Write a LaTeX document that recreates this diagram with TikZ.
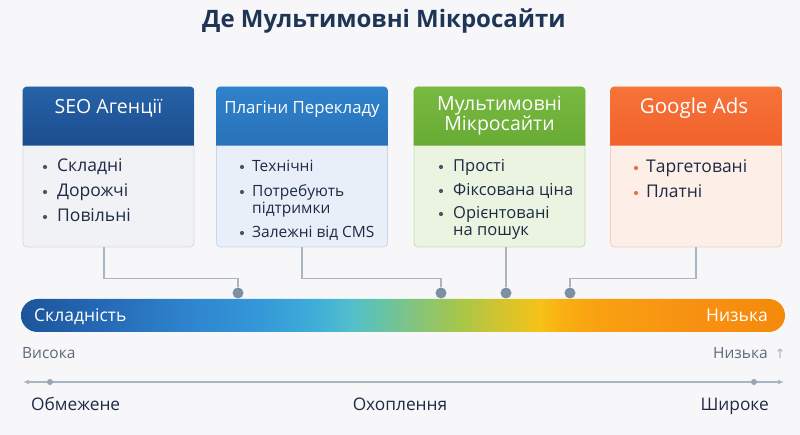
\documentclass[tikz,border=0pt]{standalone}
\usepackage{fontspec}
\setmainfont{Open Sans}
\newfontfamily\titlefont{Open Sans}
\newfontfamily\symfont{DejaVu Sans}
\usetikzlibrary{arrows.meta}
\definecolor{bg}{HTML}{F7F7FA}
\definecolor{titlec}{HTML}{1F3556}
\definecolor{ink}{HTML}{1E2B45}
\definecolor{greyt}{HTML}{5E6B7B}
\definecolor{linec}{HTML}{A9B5C0}
\definecolor{dotc}{HTML}{7D8FA2}
\definecolor{h1a}{HTML}{2662A8}\definecolor{h1b}{HTML}{1B4E8E}
\definecolor{h2a}{HTML}{2F82CC}\definecolor{h2b}{HTML}{2872B8}
\definecolor{h3a}{HTML}{78B940}\definecolor{h3b}{HTML}{68AB34}
\definecolor{h4a}{HTML}{F6733A}\definecolor{h4b}{HTML}{F0622A}
\definecolor{b1}{HTML}{F0F2F6}\definecolor{r1}{HTML}{D5DAE1}
\definecolor{b2}{HTML}{E8EFF8}\definecolor{r2}{HTML}{C9D8E9}
\definecolor{b3}{HTML}{EAF4E0}\definecolor{r3}{HTML}{C6E0B1}
\definecolor{b4}{HTML}{FDEFE7}\definecolor{r4}{HTML}{F2CEBC}
\definecolor{bulg}{HTML}{4A5568}
\definecolor{bulo}{HTML}{E8743A}
\definecolor{g0}{HTML}{1D559A}
\definecolor{g1}{HTML}{2568B5}
\definecolor{g2}{HTML}{2F88D0}
\definecolor{g3}{HTML}{3498D8}
\definecolor{g4}{HTML}{40B0D8}
\definecolor{g5}{HTML}{52BFCC}
\definecolor{g6}{HTML}{65C3A8}
\definecolor{g7}{HTML}{88C478}
\definecolor{g8}{HTML}{A8C648}
\definecolor{g9}{HTML}{C8C535}
\definecolor{g10}{HTML}{F6C218}
\definecolor{g11}{HTML}{FAB012}
\definecolor{g12}{HTML}{F9A010}
\definecolor{g13}{HTML}{F79012}
\definecolor{g14}{HTML}{F58A0A}
\pgfdeclarehorizontalshading{bargrad}{100bp}{color(0bp)=(g0); color(25bp)=(g0); color(30.15bp)=(g1); color(36.7bp)=(g2); color(40.65bp)=(g3); color(44.55bp)=(g4); color(46.55bp)=(g5); color(48.5bp)=(g6); color(51.1bp)=(g7); color(53.75bp)=(g8); color(55.7bp)=(g9); color(58.95bp)=(g10); color(60.3bp)=(g11); color(62.9bp)=(g12); color(69.45bp)=(g13); color(75bp)=(g14); color(100bp)=(g14)}
\begin{document}
\begin{tikzpicture}[x=1pt,y=-1pt,
  card/.style={draw, line width=0.8pt, rounded corners=4pt, minimum width=171pt, minimum height=160pt, inner sep=0pt},
  htext/.style={text=white, font=\fontsize{19.5}{22}\selectfont, anchor=base, inner sep=0pt},
  item/.style={text=ink, anchor=base west, inner sep=0pt},
  big/.style={font=\fontsize{17.5}{20}\selectfont},
  mid/.style={font=\fontsize{16.5}{19}\selectfont},
  small/.style={font=\fontsize{15.5}{18}\selectfont},
  bul/.style={circle, fill=#1, inner sep=0pt, minimum size=4.2pt},
  link/.style={draw=linec, line width=1.3pt},
  dotn/.style={circle, fill=dotc, inner sep=0pt, minimum size=11pt},
  axisc/.style={draw=linec, line width=1.5pt},
]
\fill[bg] (0,0) rectangle (800,435);
\useasboundingbox (0,0) rectangle (800,435);

% title
\node[anchor=base, text=titlec, inner sep=0pt, font=\titlefont\bfseries\fontsize{24}{28}\selectfont] (title) at (384,28) {Де Мультимовні Мікросайти};

% cards
\node[card, fill=b1, draw=r1] (c1) at (108.5,167) {};
\node[card, fill=b2, draw=r2] (c2) at (302,167) {};
\node[card, fill=b3, draw=r3] (c3) at (499.5,167) {};
\node[card, fill=b4, draw=r4] (c4) at (696,167) {};

\shade[top color=h1a, bottom color=h1b] ([yshift=-59pt]c1.north west) [rounded corners=4pt] -- (c1.north west) -- (c1.north east) [sharp corners] -- ++(0,59) -- cycle;
\shade[top color=h2a, bottom color=h2b] ([yshift=-59pt]c2.north west) [rounded corners=4pt] -- (c2.north west) -- (c2.north east) [sharp corners] -- ++(0,59) -- cycle;
\shade[top color=h3a, bottom color=h3b] ([yshift=-59pt]c3.north west) [rounded corners=4pt] -- (c3.north west) -- (c3.north east) [sharp corners] -- ++(0,59) -- cycle;
\shade[top color=h4a, bottom color=h4b] ([yshift=-59pt]c4.north west) [rounded corners=4pt] -- (c4.north west) -- (c4.north east) [sharp corners] -- ++(0,59) -- cycle;

\node[htext] (t1) at (108.5,114) {SEO Агенції};
\node[htext, font=\fontsize{16.8}{20}\selectfont] (t2) at (302,114) {Плагіни Перекладу};
\node[htext] (t3a) at (499.5,111) {Мультимовні};
\node[htext] (t3b) at (499.5,131) {Мікросайти};
\node[htext, font=\fontsize{20.5}{23}\selectfont] (t4) at (694,114) {Google Ads};

% card 1 items
\node[bul=bulg] (p11) at (45,167) {};
\node[item, big] (i11) at (57,172) {Складні};
\node[bul=bulg] (p12) at (45,192) {};
\node[item, big] (i12) at (57,197) {Дорожчі};
\node[bul=bulg] (p13) at (45,217) {};
\node[item, big] (i13) at (57,222) {Повільні};

% card 2 items
\node[bul=bulg] (p21) at (242,167) {};
\node[item, small] (i21) at (252,172) {Технічні};
\node[bul=bulg] (p22) at (242,192) {};
\node[item, small] (i22) at (252,197) {Потребують};
\node[item, small] (i22b) at (252,214) {підтримки};
\node[bul=bulg] (p23) at (242,233) {};
\node[item, small] (i23) at (252,238) {Залежні від CMS};

% card 3 items
\node[bul=bulg] (p31) at (441,167) {};
\node[item, mid] (i31) at (453,172) {Прості};
\node[bul=bulg] (p32) at (441,191) {};
\node[item, mid] (i32) at (453,196) {Фіксована ціна};
\node[bul=bulg] (p33) at (441,214) {};
\node[item, mid] (i33) at (453,219) {Орієнтовані};
\node[item, mid] (i33b) at (453,236) {на пошук};

% card 4 items
\node[bul=bulo] (p41) at (636,168) {};
\node[item, big] (i41) at (646,173) {Таргетовані};
\node[bul=bulo] (p42) at (636,193) {};
\node[item, big] (i42) at (646,198) {Платні};

% connectors
\node[dotn] (d1) at (238,293) {};
\node[dotn] (d2) at (441,293) {};
\node[dotn] (d3) at (506,293) {};
\node[dotn] (d4) at (570,293) {};
\draw[link] ([xshift=-4.5pt]c1.south) -- ++(0,31) -| (d1);
\draw[link] (c2.south) -- ++(0,31) -| (d2);
\draw[link] ([xshift=6.5pt]c3.south) -- (d3);
\draw[link] (c4.south) -- ++(0,31) -| (d4);

% gradient bar
\shade[shading=bargrad, rounded corners=16.5pt] (21,299) rectangle (785,332);
\node[anchor=base west, text=white, inner sep=0pt, font=\fontsize{17.5}{21}\selectfont] (bl) at (34,322) {Складність};
\node[anchor=base east, text=white, inner sep=0pt, font=\fontsize{17.5}{21}\selectfont] (br) at (768,322) {Низька};

% scale labels
\node[anchor=base west, text=greyt, inner sep=0pt, font=\fontsize{15.5}{18}\selectfont] (hi) at (22,358) {Висока};
\node[anchor=base east, text=greyt, inner sep=0pt, font=\fontsize{15.5}{18}\selectfont] (lo) at (768,358) {Низька};
\node[anchor=base, text=linec, inner sep=0pt, font=\symfont\fontsize{13}{15}\selectfont] (up) at (780,358) {↑};

% axis
\coordinate (axl) at (23,382);
\coordinate (axr) at (784,382);
\draw[axisc, {Latex[length=6pt,width=5pt]}-{Latex[length=6pt,width=5pt]}] (axl) -- (axr);
\node[circle, fill=dotc!80, inner sep=0pt, minimum size=6pt] (m1) at (50,382) {};
\node[circle, fill=dotc!80, inner sep=0pt, minimum size=6pt] (m2) at (754,382) {};

\node[anchor=base west, text=ink, inner sep=0pt, font=\fontsize{17.3}{20}\selectfont] (lim) at (31,410) {Обмежене};
\node[anchor=base, text=ink, inner sep=0pt, font=\fontsize{17.3}{20}\selectfont] (cov) at (400,410) {Охоплення};
\node[anchor=base east, text=ink, inner sep=0pt, font=\fontsize{17.3}{20}\selectfont] (wide) at (769,410) {Широке};
\end{tikzpicture}
\end{document}
